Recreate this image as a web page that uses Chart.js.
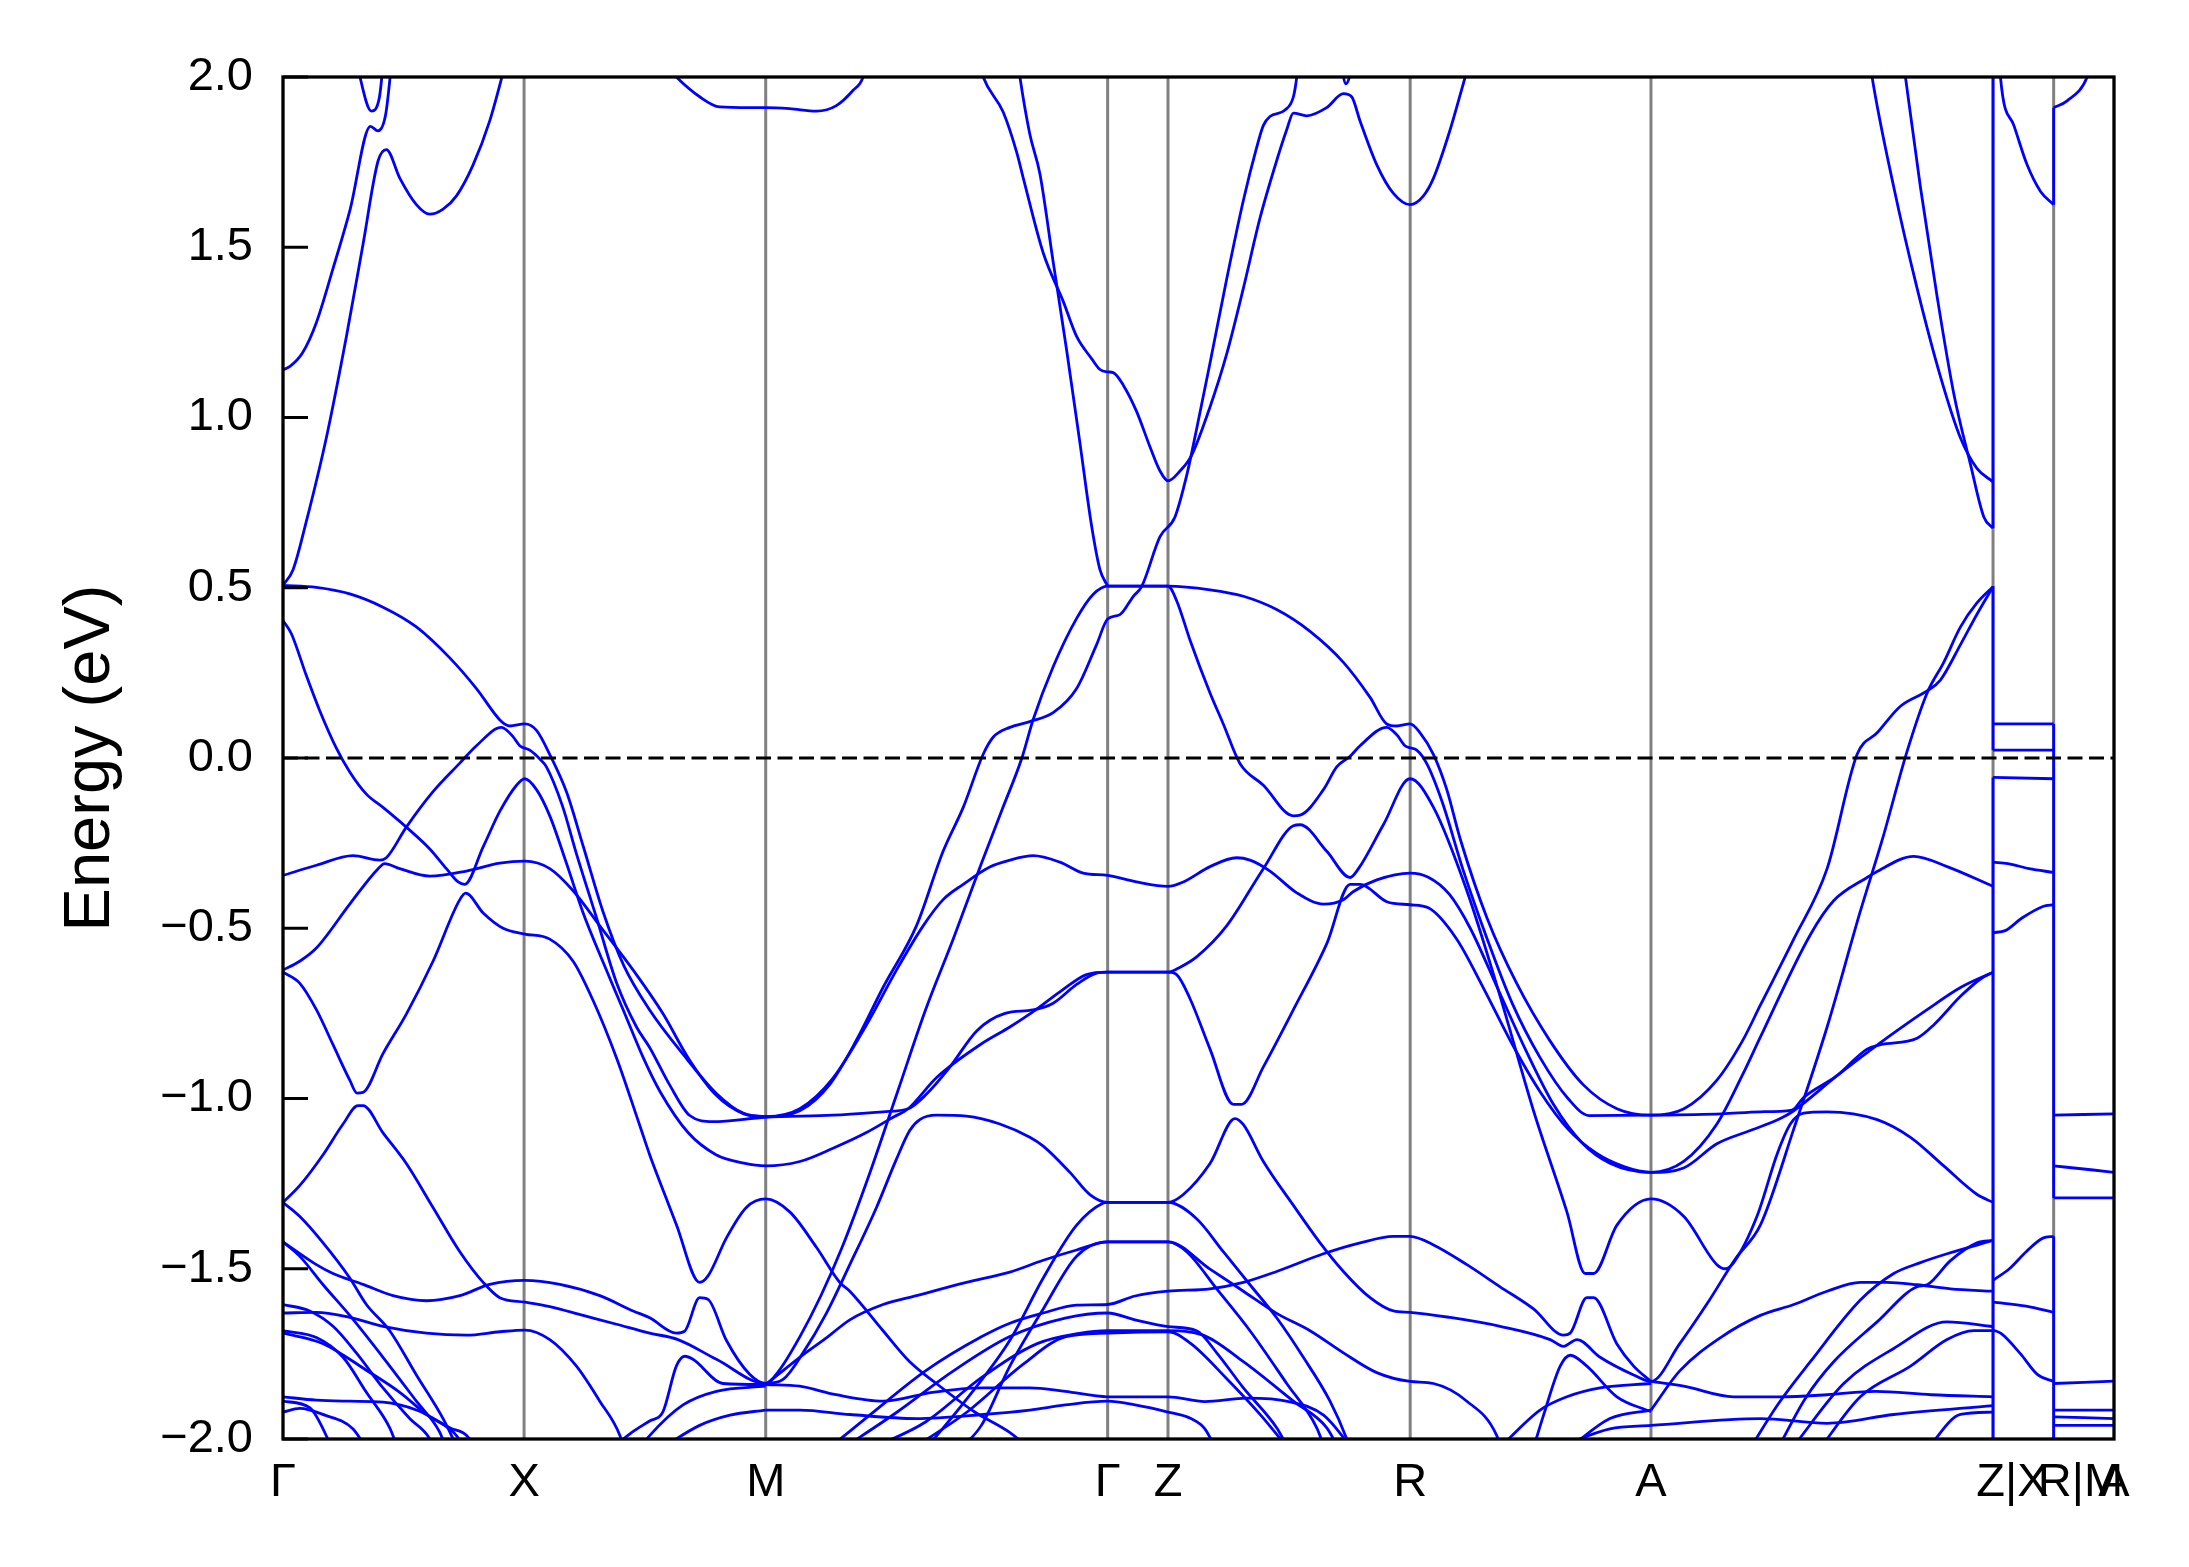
<!DOCTYPE html>
<html>
<head>
<meta charset="utf-8">
<script src="https://cdn.jsdelivr.net/npm/chart.js@4.4.1/dist/chart.umd.min.js"></script>
<style>
  html, body { margin: 0; padding: 0; background: #fff; }
  canvas { display: block; }
</style>
</head>
<body>
<canvas id="bands" width="2189" height="1567"></canvas>
<script>
// k-path (high-symmetry points) and energy ticks
const kTicks = [0, 1.726, 3.456, 5.904, 6.336, 8.07, 9.794, 12.243, 12.677, 13.109];
const kLabels = ["Γ", "X", "M", "Γ", "Z", "R", "A", "Z|X", "R|M", "A"];
// where the labels sit (the two break labels are drawn a little right of their lines)
const kLabelPos = [0, 1.726, 3.456, 5.904, 6.336, 8.07, 9.794, 12.382, 12.869, 13.109];
const energyTicks = [-2, -1.5, -1, -0.5, 0, 0.5, 1, 1.5, 2];

// conduction bands, [k, E]
const cond1 = [[0,1.14],[0.05,1.15],[0.14,1.19],[0.24,1.28],[0.36,1.44],[0.48,1.61],[0.626,1.855],[0.68,1.842],[0.735,1.89],[0.78,2.05]];
const cond2 = [[0.52,2.05],[0.633,1.9],[0.69,1.94],[0.72,2.05]];
const cond3 = [[0,0.507],[0.072,0.553],[0.167,0.695],[0.31,0.94],[0.454,1.238],[0.573,1.509],[0.681,1.754],[0.74,1.787],[0.836,1.703],[0.955,1.625],[1.051,1.597],[1.146,1.612],[1.242,1.651],[1.361,1.742],[1.48,1.871],[1.6,2.05]];
const cond4 = [[2.75,2.03],[2.816,2.0],[2.983,1.942],[3.126,1.912],[3.341,1.91],[3.456,1.91],[3.628,1.907],[3.819,1.9],[3.962,1.916],[4.082,1.961],[4.153,2.0],[4.18,2.05]];
const cond5 = [[5.26,2.05],[5.276,2.0],[5.347,1.832],[5.419,1.716],[5.514,1.457],[5.61,1.199],[5.705,0.927],[5.789,0.682],[5.849,0.553],[5.904,0.505]];
const cond6 = [[4.98,2.05],[5.013,2.0],[5.156,1.897],[5.252,1.78],[5.3,1.703],[5.443,1.483],[5.586,1.341],[5.682,1.238],[5.789,1.173],[5.849,1.141],[5.904,1.134],[5.944,1.132],[6.016,1.095],[6.111,1.018],[6.207,0.914],[6.279,0.843],[6.336,0.814],[6.422,0.843],[6.505,0.889],[6.637,1.031],[6.756,1.186],[6.876,1.38],[6.995,1.586],[7.114,1.754],[7.186,1.845],[7.234,1.894],[7.329,1.886],[7.472,1.91],[7.592,1.951],[7.651,1.942],[7.711,1.871],[7.831,1.742],[7.95,1.658],[8.069,1.625],[8.165,1.651],[8.237,1.703],[8.356,1.845],[8.464,2.0],[8.5,2.05]];
const cond7 = [[7.57,2.05],[7.61,1.98],[7.67,2.05]];
const cond8 = [[11.36,2.05],[11.377,2.0],[11.532,1.677],[11.699,1.38],[11.866,1.121],[12.01,0.94],[12.129,0.85],[12.243,0.811]];
const cond9 = [[11.6,2.05],[11.616,2.0],[11.723,1.677],[11.843,1.354],[11.962,1.07],[12.081,0.863],[12.177,0.708],[12.243,0.675]];
const xrCond = [[12.29,2.05],[12.296,2.0],[12.392,1.858],[12.487,1.742],[12.583,1.664],[12.677,1.625]];
const maCond = [[12.677,1.91],[12.773,1.93],[12.917,2.0],[12.95,2.05]];

// valence bands near the Fermi level
const bandC = [[0,0.507],[0.239,0.501],[0.478,0.482],[0.716,0.443],[0.955,0.385],[1.194,0.294],[1.385,0.204],[1.564,0.107],[1.624,0.094],[1.731,0.1],[1.815,0.081],[1.91,0.01],[2.03,-0.1],[2.15,-0.26],[2.29,-0.45],[2.44,-0.61],[2.625,-0.74],[2.864,-0.87],[3.103,-0.985],[3.294,-1.043],[3.456,-1.053],[3.7,-1.036],[3.914,-0.959],[4.105,-0.829],[4.296,-0.674],[4.535,-0.493],[4.726,-0.274],[4.87,-0.145],[5.013,0.011],[5.084,0.061],[5.204,0.09],[5.347,0.107],[5.514,0.133],[5.682,0.204],[5.825,0.333],[5.904,0.408],[5.992,0.421],[6.088,0.475],[6.147,0.503],[6.279,0.65],[6.386,0.708],[6.47,0.83],[6.541,0.966],[6.637,1.16],[6.756,1.406],[6.876,1.638],[6.971,1.793],[7.019,1.858],[7.066,1.884],[7.174,1.903],[7.234,1.942],[7.258,2.0],[7.27,2.05]];
const bandB = [[5.904,0.505],[6.336,0.505],[6.398,0.462],[6.494,0.346],[6.637,0.191],[6.732,0.1],[6.851,-0.016],[7.019,-0.08],[7.234,-0.17],[7.282,-0.168],[7.449,-0.093],[7.544,-0.026],[7.64,0.005],[7.711,0.036],[7.902,0.09],[7.974,0.068],[8.033,0.036],[8.069,0.03],[8.117,0.023],[8.188,-0.016],[8.3,-0.13],[8.45,-0.33],[8.62,-0.53],[8.8,-0.72],[9.0,-0.88],[9.2,-1.0],[9.35,-1.05],[9.794,-1.049],[10.3,-1.045],[10.577,-1.039],[10.804,-1.034],[10.887,-0.997],[11.126,-0.933],[11.341,-0.855],[11.437,-0.842],[11.699,-0.823],[11.818,-0.784],[12.01,-0.7],[12.153,-0.649],[12.243,-0.629]];
const bandE = [[0,-0.345],[0.239,-0.315],[0.501,-0.287],[0.692,-0.3],[0.74,-0.293],[0.883,-0.203],[1.074,-0.099],[1.266,-0.015],[1.385,0.036],[1.564,0.09],[1.648,0.062],[1.695,0.036],[1.767,0.023],[1.839,-0.003],[1.886,-0.026],[2.0,-0.14],[2.1,-0.28],[2.245,-0.47],[2.388,-0.66],[2.531,-0.79],[2.625,-0.85],[2.768,-0.96],[2.912,-1.05],[3.079,-1.068],[3.456,-1.055],[3.938,-1.049],[4.296,-1.039],[4.476,-1.03],[4.6,-0.99],[4.77,-0.91],[4.97,-0.8],[5.17,-0.75],[5.37,-0.74],[5.514,-0.72],[5.682,-0.665],[5.825,-0.632],[5.904,-0.629],[6.336,-0.629],[6.398,-0.636],[6.494,-0.707],[6.637,-0.855],[6.804,-1.017],[6.864,-1.017],[7.019,-0.907],[7.234,-0.739],[7.473,-0.545],[7.64,-0.371],[7.712,-0.371],[7.903,-0.422],[8.069,-0.431],[8.2,-0.44],[8.4,-0.53],[8.6,-0.68],[8.8,-0.84],[9.0,-0.98],[9.2,-1.09],[9.4,-1.16],[9.6,-1.2],[9.794,-1.217],[10.028,-1.185],[10.266,-1.075],[10.45,-0.93],[10.577,-0.82],[10.935,-0.519],[11.1,-0.42],[11.341,-0.351],[11.401,-0.336],[11.675,-0.289],[11.914,-0.319],[12.243,-0.377]];
const bandD = [[0,0.404],[0.06,0.365],[0.167,0.242],[0.263,0.139],[0.382,0.029],[0.478,-0.041],[0.597,-0.106],[0.716,-0.145],[0.883,-0.203],[1.051,-0.267],[1.17,-0.325],[1.254,-0.364],[1.301,-0.371],[1.433,-0.261],[1.552,-0.157],[1.672,-0.08],[1.731,-0.061],[1.815,-0.093],[1.91,-0.17],[2.03,-0.31],[2.149,-0.455],[2.292,-0.6],[2.436,-0.74],[2.579,-0.88],[2.7,-0.98],[2.9,-1.1],[3.1,-1.165],[3.3,-1.19],[3.456,-1.198],[3.7,-1.185],[3.938,-1.146],[4.177,-1.1],[4.368,-1.055],[4.476,-1.03],[4.678,-0.939],[5.013,-0.836],[5.204,-0.79],[5.371,-0.745],[5.562,-0.687],[5.753,-0.636],[5.904,-0.629],[6.336,-0.629],[6.42,-0.615],[6.541,-0.584],[6.756,-0.493],[7.019,-0.325],[7.234,-0.199],[7.282,-0.196],[7.473,-0.274],[7.64,-0.351],[7.7,-0.325],[7.878,-0.196],[8.069,-0.061],[8.237,-0.145],[8.476,-0.39],[8.714,-0.7],[8.953,-1.036],[9.192,-1.333],[9.323,-1.514],[9.383,-1.514],[9.55,-1.372],[9.794,-1.295],[10.028,-1.346],[10.266,-1.488],[10.326,-1.5],[10.386,-1.482],[10.553,-1.346],[10.7,-1.16],[10.792,-1.075],[10.887,-1.043],[11.055,-1.039],[11.413,-1.062],[11.652,-1.114],[11.89,-1.198],[12.129,-1.282],[12.243,-1.305]];
const bandF = [[0,-0.623],[0.119,-0.597],[0.239,-0.558],[0.478,-0.429],[0.681,-0.325],[0.728,-0.31],[0.836,-0.325],[1.051,-0.347],[1.313,-0.332],[1.552,-0.309],[1.731,-0.303],[1.91,-0.325],[2.077,-0.39],[2.268,-0.493],[2.507,-0.623],[2.722,-0.752],[2.9,-0.88],[3.1,-0.99],[3.3,-1.045],[3.456,-1.053],[3.7,-1.03],[3.938,-0.94],[4.177,-0.784],[4.392,-0.623],[4.583,-0.493],[4.726,-0.416],[4.87,-0.371],[5.06,-0.32],[5.204,-0.3],[5.371,-0.287],[5.562,-0.306],[5.729,-0.338],[5.904,-0.345],[6.111,-0.364],[6.336,-0.377],[6.446,-0.364],[6.637,-0.319],[6.828,-0.293],[6.923,-0.3],[7.066,-0.332],[7.258,-0.396],[7.449,-0.429],[7.592,-0.416],[7.664,-0.392],[7.831,-0.358],[8.069,-0.338],[8.2,-0.35],[8.35,-0.4],[8.5,-0.5],[8.7,-0.68],[8.9,-0.86],[9.1,-1.02],[9.3,-1.13],[9.5,-1.19],[9.794,-1.217],[10.028,-1.204],[10.266,-1.133],[10.505,-1.094],[10.72,-1.059],[10.816,-1.036],[11.126,-0.933],[11.413,-0.843],[11.771,-0.739],[12.01,-0.674],[12.243,-0.629]];
const bandG = [[0,-0.629],[0.119,-0.661],[0.239,-0.739],[0.358,-0.842],[0.478,-0.946],[0.53,-0.984],[0.573,-0.982],[0.716,-0.868],[0.883,-0.752],[1.074,-0.597],[1.266,-0.416],[1.308,-0.397],[1.433,-0.455],[1.576,-0.5],[1.731,-0.517],[1.91,-0.532],[2.077,-0.597],[2.221,-0.713],[2.388,-0.881],[2.555,-1.08],[2.625,-1.165],[2.722,-1.27],[2.816,-1.37],[2.983,-1.54],[3.043,-1.521],[3.174,-1.41],[3.317,-1.32],[3.456,-1.295],[3.628,-1.333],[3.819,-1.437],[3.986,-1.54],[4.058,-1.566],[4.296,-1.682],[4.487,-1.773],[4.678,-1.837],[4.95,-1.92],[5.2,-1.98],[5.35,-2.03]];
const bandJ = [[0,-1.421],[0.239,-1.488],[0.358,-1.514],[0.573,-1.546],[0.788,-1.579],[1.027,-1.594],[1.266,-1.579],[1.48,-1.546],[1.731,-1.534],[1.982,-1.546],[2.268,-1.579],[2.507,-1.624],[2.625,-1.644],[2.816,-1.689],[2.876,-1.683],[2.983,-1.585],[3.043,-1.59],[3.174,-1.71],[3.341,-1.81],[3.456,-1.837],[3.55,-1.8],[3.7,-1.7],[3.85,-1.58],[4.0,-1.44],[4.2,-1.22],[4.4,-0.98],[4.6,-0.74],[4.8,-0.53],[5.0,-0.31],[5.15,-0.15],[5.29,0.0],[5.371,0.113],[5.514,0.268],[5.682,0.41],[5.801,0.481],[5.904,0.505],[6.336,0.505],[6.637,0.494],[6.876,0.475],[7.114,0.436],[7.353,0.372],[7.592,0.281],[7.783,0.178],[7.902,0.1],[7.974,0.094],[8.069,0.1],[8.141,0.074],[8.237,0.01],[8.33,-0.09],[8.43,-0.24],[8.62,-0.47],[8.83,-0.66],[9.07,-0.83],[9.31,-0.96],[9.55,-1.03],[9.794,-1.049],[10.03,-1.03],[10.266,-0.946],[10.45,-0.83],[10.577,-0.726],[10.816,-0.532],[11.055,-0.325],[11.27,0.011],[11.413,0.074],[11.58,0.152],[11.771,0.197],[11.866,0.229],[12.01,0.333],[12.129,0.423],[12.243,0.503]];
const bandH = [[0,-1.305],[0.119,-1.256],[0.287,-1.165],[0.43,-1.075],[0.537,-1.021],[0.573,-1.021],[0.716,-1.101],[0.883,-1.191],[1.074,-1.32],[1.266,-1.45],[1.433,-1.54],[1.552,-1.585],[1.731,-1.598],[1.91,-1.611],[2.149,-1.637],[2.388,-1.663],[2.625,-1.689],[2.828,-1.708],[3.103,-1.766],[3.456,-1.837],[3.58,-1.825],[3.723,-1.747],[3.89,-1.631],[4.058,-1.488],[4.249,-1.32],[4.392,-1.178],[4.487,-1.094],[4.559,-1.062],[4.678,-1.049],[4.893,-1.052],[5.132,-1.075],[5.347,-1.114],[5.443,-1.14],[5.634,-1.217],[5.777,-1.282],[5.904,-1.305],[6.336,-1.305],[6.446,-1.282],[6.637,-1.191],[6.816,-1.059],[6.876,-1.077],[7.019,-1.185],[7.234,-1.314],[7.425,-1.424],[7.592,-1.508],[7.783,-1.585],[7.95,-1.624],[8.069,-1.628],[8.356,-1.643],[8.714,-1.669],[9.072,-1.708],[9.168,-1.728],[9.264,-1.708],[9.43,-1.76],[9.67,-1.812],[9.794,-1.831],[10.0,-1.72],[10.2,-1.6],[10.4,-1.47],[10.577,-1.372],[10.816,-1.09],[11.055,-0.79],[11.293,-0.45],[11.45,-0.24],[11.628,0.02],[11.771,0.191],[11.89,0.281],[12.01,0.385],[12.129,0.456],[12.243,0.503]];

// deeper valence bands
const bandI = [[0,-1.305],[0.119,-1.346],[0.287,-1.424],[0.478,-1.527],[0.597,-1.605],[0.764,-1.682],[0.955,-1.812],[1.146,-1.94],[1.218,-2.0],[1.25,-2.03]];
const bandK = [[0,-1.421],[0.119,-1.463],[0.287,-1.547],[0.478,-1.637],[0.716,-1.76],[0.955,-1.889],[1.122,-1.98],[1.17,-2.03]];
const bandL = [[0,-1.605],[0.191,-1.624],[0.358,-1.669],[0.525,-1.747],[0.716,-1.85],[0.907,-1.94],[1.051,-2.0],[1.08,-2.03]];
const bandM = [[0,-1.63],[0.239,-1.628],[0.478,-1.643],[0.716,-1.669],[1.027,-1.689],[1.313,-1.695],[1.552,-1.685],[1.731,-1.68],[1.91,-1.708],[2.101,-1.786],[2.268,-1.889],[2.412,-1.99],[2.44,-2.03]];
const bandN1 = [[0,-1.682],[0.239,-1.702],[0.43,-1.76],[0.597,-1.863],[0.764,-1.967],[0.824,-2.03]];
const bandN2 = [[0,-1.689],[0.287,-1.72],[0.597,-1.798],[0.836,-1.863],[1.027,-1.928],[1.242,-1.99],[1.3,-2.03]];
const bandO1 = [[0,-1.876],[0.239,-1.886],[0.478,-1.889],[0.716,-1.892],[0.955,-1.915],[1.194,-1.967],[1.337,-2.0],[1.37,-2.03]];
const bandO2 = [[0,-1.889],[0.191,-1.908],[0.358,-2.03]];
const bandO3 = [[0,-1.921],[0.12,-1.91],[0.3,-1.93],[0.5,-1.97],[0.6,-2.03]];
const xm1 = [[2.35,-2.03],[2.5,-1.98],[2.625,-1.947],[2.72,-1.92],[2.816,-1.786],[2.876,-1.757],[2.935,-1.766],[3.15,-1.837],[3.456,-1.84]];
const xm2 = [[2.55,-2.03],[2.625,-1.99],[2.864,-1.9],[3.103,-1.86],[3.456,-1.845]];
const xm3 = [[2.7,-2.03],[2.983,-1.96],[3.2,-1.93],[3.456,-1.915]];
const mg1 = [[3.456,-1.84],[3.7,-1.845],[3.96,-1.87],[4.296,-1.889],[4.65,-1.863],[5.013,-1.85],[5.347,-1.85],[5.6,-1.86],[5.904,-1.876],[6.336,-1.876],[6.6,-1.89],[6.9,-1.88],[7.2,-1.89],[7.45,-1.93],[7.6,-2.0],[7.65,-2.03]];
const mg2 = [[3.456,-1.915],[3.7,-1.915],[4.058,-1.928],[4.535,-1.94],[5.013,-1.928],[5.347,-1.915],[5.6,-1.9],[5.904,-1.889],[6.1,-1.9],[6.336,-1.921],[6.5,-1.94],[6.6,-1.97],[6.68,-2.03]];
const mg3 = [[3.456,-1.84],[3.7,-1.76],[3.9,-1.7],[4.058,-1.65],[4.296,-1.605],[4.535,-1.579],[4.893,-1.54],[5.204,-1.51],[5.443,-1.475],[5.682,-1.445],[5.904,-1.421],[6.336,-1.421],[6.637,-1.501],[6.876,-1.566],[7.114,-1.631],[7.353,-1.682],[7.592,-1.747],[7.831,-1.805],[8.069,-1.831],[8.237,-1.837],[8.476,-1.889],[8.69,-1.99],[8.72,-2.03]];
const mg4 = [[4.85,-2.03],[5.0,-1.96],[5.204,-1.786],[5.443,-1.618],[5.682,-1.463],[5.904,-1.421],[6.336,-1.421],[6.47,-1.45],[6.685,-1.559],[6.923,-1.682],[7.186,-1.837],[7.401,-1.967],[7.46,-2.03]];
const mg5 = [[4.6,-2.03],[4.9,-1.88],[5.204,-1.71],[5.443,-1.527],[5.682,-1.372],[5.873,-1.307],[5.904,-1.305],[6.336,-1.305],[6.541,-1.353],[6.732,-1.45],[6.923,-1.547],[7.114,-1.644],[7.305,-1.76],[7.496,-1.889],[7.616,-2.0],[7.64,-2.03]];
const mg6 = [[3.9,-2.03],[4.2,-1.93],[4.6,-1.8],[5.0,-1.7],[5.204,-1.66],[5.443,-1.63],[5.682,-1.607],[5.904,-1.605],[6.1,-1.58],[6.336,-1.566],[6.637,-1.559],[6.876,-1.54],[7.114,-1.508],[7.449,-1.456],[7.712,-1.424],[7.95,-1.405],[8.069,-1.405],[8.237,-1.43],[8.476,-1.488],[8.714,-1.553],[8.953,-1.618],[9.168,-1.695],[9.216,-1.689],[9.335,-1.585],[9.383,-1.585],[9.55,-1.721],[9.67,-1.786],[9.794,-1.831]];
const mg7 = [[4.0,-2.03],[4.4,-1.92],[4.8,-1.8],[5.2,-1.7],[5.6,-1.645],[5.904,-1.63],[6.1,-1.65],[6.336,-1.67],[6.541,-1.682],[6.685,-1.747],[6.876,-1.85],[7.114,-1.967],[7.2,-2.03]];
const mg8 = [[4.2,-2.03],[4.6,-1.95],[5.0,-1.82],[5.4,-1.72],[5.7,-1.69],[5.904,-1.682],[6.336,-1.682],[6.588,-1.695],[6.876,-1.773],[7.234,-1.889],[7.473,-1.967],[7.56,-2.03]];
const mg9 = [[4.5,-2.03],[4.9,-1.92],[5.3,-1.78],[5.6,-1.7],[5.904,-1.689],[6.336,-1.685],[6.5,-1.72],[6.75,-1.82],[7.0,-1.93],[7.2,-2.03]];
const ra1 = [[8.7,-2.03],[9.0,-1.915],[9.192,-1.876],[9.43,-1.85],[9.794,-1.837]];
const ra2 = [[8.95,-2.03],[9.025,-1.93],[9.144,-1.786],[9.216,-1.754],[9.335,-1.786],[9.55,-1.876],[9.794,-1.92]];
const ra3 = [[9.2,-2.03],[9.5,-1.94],[9.794,-1.915]];
const ra4 = [[9.1,-2.03],[9.5,-1.97],[9.794,-1.96]];
const az1 = [[9.794,-1.831],[10.028,-1.845],[10.386,-1.876],[10.72,-1.876],[11.055,-1.87],[11.4,-1.86],[11.8,-1.87],[12.243,-1.876]];
const az2 = [[9.794,-1.915],[10.0,-1.8],[10.3,-1.7],[10.577,-1.637],[10.816,-1.605],[11.055,-1.566],[11.293,-1.54],[11.484,-1.54],[11.699,-1.547],[11.938,-1.559],[12.243,-1.566]];
const az3 = [[10.5,-2.03],[10.7,-1.9],[10.935,-1.773],[11.293,-1.592],[11.532,-1.514],[11.723,-1.482],[11.914,-1.456],[12.243,-1.417]];
const az4 = [[10.7,-2.03],[10.9,-1.88],[11.102,-1.773],[11.413,-1.656],[11.699,-1.553],[11.771,-1.547],[11.938,-1.476],[12.129,-1.424],[12.243,-1.417]];
const az5 = [[10.8,-2.03],[11.174,-1.837],[11.532,-1.734],[11.914,-1.656],[12.243,-1.67]];
const az6 = [[11.0,-2.03],[11.293,-1.876],[11.652,-1.786],[11.914,-1.708],[12.105,-1.682],[12.243,-1.682]];
const az7 = [[9.794,-1.96],[10.577,-1.94],[11.055,-1.954],[11.532,-1.928],[12.243,-1.902]];
const az8 = [[11.77,-2.03],[12.01,-1.928],[12.243,-1.921]];

// X -> R and M -> A segments after the path breaks
const xrBands = [
  [[12.243,0.1],[12.677,0.1]],
  [[12.243,0.023],[12.677,0.023]],
  [[12.243,-0.057],[12.677,-0.061]],
  [[12.243,-0.306],[12.35,-0.31],[12.5,-0.325],[12.677,-0.336]],
  [[12.243,-0.513],[12.33,-0.507],[12.45,-0.47],[12.6,-0.436],[12.677,-0.431]],
  [[12.243,-1.534],[12.36,-1.5],[12.48,-1.45],[12.6,-1.41],[12.677,-1.405]],
  [[12.243,-1.598],[12.48,-1.61],[12.677,-1.628]],
  [[12.243,-1.68],[12.3,-1.69],[12.44,-1.75],[12.56,-1.81],[12.677,-1.831]],
];
const maBands = [
  [[12.677,-1.049],[13.109,-1.045]],
  [[12.677,-1.198],[12.96,-1.21],[13.109,-1.217]],
  [[12.677,-1.292],[13.109,-1.292]],
  [[12.677,-1.837],[13.109,-1.83]],
  [[12.677,-1.915],[13.109,-1.915]],
  [[12.677,-1.935],[13.109,-1.94]],
  [[12.677,-1.96],[13.109,-1.96]],
];
// vertical jumps at the path breaks: [k, from, to]
const jumps = [
  [12.243, 0.675, 2.05], [12.243, 0.023, 0.505], [12.243, -2.05, -0.057],
  [12.677, 1.625, 1.91], [12.677, -1.292, 0.1], [12.677, -2.05, -1.405],
];

const curves = [
  cond1, cond2, cond3, cond4, cond5, cond6, cond7, cond8, cond9, xrCond, maCond,
  bandC, bandB, bandE, bandD, bandF, bandG, bandJ, bandH,
  bandI, bandK, bandL, bandM, bandN1, bandN2, bandO1, bandO2, bandO3,
  xm1, xm2, xm3, mg1, mg2, mg3, mg4, mg5, mg6, mg7, mg8, mg9,
  ra1, ra2, ra3, ra4, az1, az2, az3, az4, az5, az6, az7, az8,
  ...xrBands, ...maBands,
];

const BLUE = "#0000ff";
const FONT = "'Liberation Sans', Arial, sans-serif";

const toPoints = (pts) => pts.map(([x, y]) => ({ x, y }));

const bandSet = (pts) => ({
  data: toPoints(pts),
  borderColor: BLUE,
  borderWidth: 2.8,
  pointRadius: 0,
  fill: false,
  cubicInterpolationMode: "monotone",
  order: 1,
});

const straightSet = (pts, color, width, order, dash) => ({
  data: toPoints(pts),
  borderColor: color,
  borderWidth: width,
  borderDash: dash || [],
  pointRadius: 0,
  fill: false,
  tension: 0,
  order,
});

const datasets = [];
kTicks.slice(1, -1).forEach((k) => {
  datasets.push(straightSet([[k, -2], [k, 2]], "#808080", 3, 5));
});
curves.forEach((c) => datasets.push(bandSet(c)));
jumps.forEach(([k, a, b]) => datasets.push(straightSet([[k, a], [k, b]], BLUE, 2.8, 1)));
datasets.push(straightSet([[0, 0], [kTicks[kTicks.length - 1], 0]], "#000000", 2.8, 0, [15, 6.5]));

// spines and inward y ticks
const framePlugin = {
  id: "frame",
  afterDatasetsDraw(chart) {
    const { ctx, chartArea: a, scales } = chart;
    ctx.save();
    ctx.strokeStyle = "#000";
    ctx.lineWidth = 3.3;
    ctx.strokeRect(a.left, a.top, a.right - a.left, a.bottom - a.top);
    ctx.lineWidth = 3;
    energyTicks.forEach((v) => {
      const y = scales.y.getPixelForValue(v);
      ctx.beginPath();
      ctx.moveTo(a.left, y);
      ctx.lineTo(a.left + 25, y);
      ctx.stroke();
    });
    ctx.restore();
  },
};

new Chart(document.getElementById("bands"), {
  type: "line",
  data: { datasets },
  options: {
    animation: false,
    responsive: false,
    devicePixelRatio: 1,
    elements: { line: { capBezierPoints: false } },
    layout: { padding: { top: 77, right: 75, left: 0, bottom: 0 } },
    plugins: { legend: { display: false }, tooltip: { enabled: false } },
    scales: {
      x: {
        type: "linear",
        min: 0,
        max: kTicks[kTicks.length - 1],
        afterBuildTicks: (axis) => { axis.ticks = kLabelPos.map((v) => ({ value: v })); },
        afterFit: (axis) => { axis.height = 128; },
        grid: { display: false },
        border: { display: false },
        ticks: {
          autoSkip: false,
          maxRotation: 0,
          minRotation: 0,
          padding: 8,
          color: "#000",
          font: { family: FONT, size: 47 },
          callback: (v, i) => kLabels[i],
        },
      },
      y: {
        type: "linear",
        min: -2,
        max: 2,
        afterBuildTicks: (axis) => { axis.ticks = energyTicks.map((v) => ({ value: v })); },
        afterFit: (axis) => { axis.width = 283; },
        grid: { display: false },
        border: { display: false },
        ticks: {
          padding: 22,
          color: "#000",
          font: { family: FONT, size: 47 },
          callback: (v) => (v < 0 ? "\u2212" : "") + Math.abs(v).toFixed(1),
        },
        title: {
          display: true,
          text: "Energy (eV)",
          color: "#000",
          font: { family: FONT, size: 65 },
          padding: { top: 52, bottom: 0 },
        },
      },
    },
  },
  plugins: [framePlugin],
});
</script>
</body>
</html>
